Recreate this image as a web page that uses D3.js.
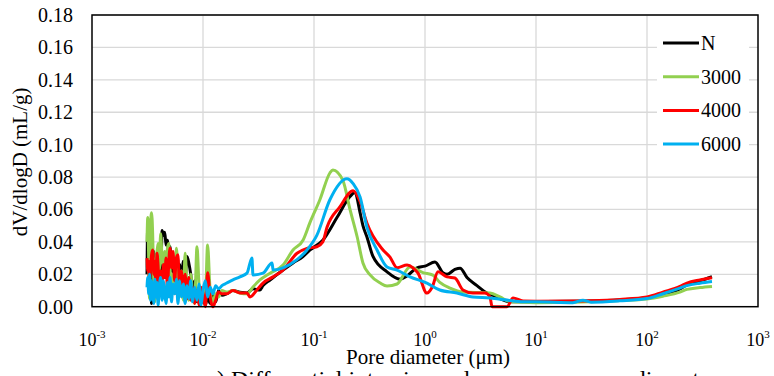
<!DOCTYPE html>
<html>
<head>
<meta charset="utf-8">
<script src="https://cdn.jsdelivr.net/npm/d3@7"></script>
<style>
  body { margin: 0; background: #fff; }
  svg text { font-family: "Liberation Serif", "Times New Roman", "DejaVu Serif", serif; fill: #000; }
</style>
</head>
<body>
<script>
// pore diameter (um), dV/dlogD (mL/g)
var seriesNames = ["N", "3000", "4000", "6000"];
var seriesColors = ["#000000", "#92D050", "#FF0000", "#00B0F0"];

var nData = [
  [0.00313, 0.020], [0.00318, 0.052], [0.00324, 0.040], [0.0033, 0.010],
  [0.00337, 0.028], [0.00344, 0.002], [0.00352, 0.030], [0.0036, 0.034],
  [0.00368, 0.006], [0.00376, 0.032], [0.00385, 0.026], [0.00394, 0.004],
  [0.00404, 0.030], [0.00415, 0.012], [0.00428, 0.047], [0.0044, 0.044],
  [0.00452, 0.046], [0.00465, 0.038], [0.00478, 0.041], [0.00492, 0.030],
  [0.00505, 0.037], [0.0052, 0.022], [0.00537, 0.030], [0.00555, 0.008],
  [0.00575, 0.027], [0.00595, 0.010], [0.00615, 0.026], [0.0064, 0.014],
  [0.00665, 0.028], [0.0069, 0.018], [0.00718, 0.031], [0.00745, 0.027],
  [0.00775, 0.020], [0.00805, 0.010], [0.0084, 0.016], [0.00883, 0.003],
  [0.0092, 0.008], [0.0096, 0.002], [0.01, 0.006], [0.0105, 0.001],
  [0.011, 0.006], [0.0116, 0.002], [0.0123, 0.008], [0.013, 0.003],
  [0.0138, 0.010], [0.0148, 0.007], [0.0164, 0.008], [0.0186, 0.010],
  [0.0215, 0.009], [0.0249, 0.0085], [0.0282, 0.011], [0.0326, 0.0103],
  [0.0347, 0.013], [0.0402, 0.0165], [0.0526, 0.0226], [0.0647, 0.027],
  [0.0796, 0.031], [0.0921, 0.035], [0.12, 0.041], [0.161, 0.055],
  [0.211, 0.068], [0.234, 0.0705], [0.26, 0.058], [0.276, 0.050],
  [0.30, 0.043], [0.34, 0.031], [0.455, 0.0215], [0.596, 0.017],
  [0.689, 0.019], [0.847, 0.024], [1.0, 0.025], [1.23, 0.0276],
  [1.45, 0.021], [1.58, 0.020], [1.86, 0.023], [2.07, 0.0238],
  [2.39, 0.018], [2.94, 0.013], [3.62, 0.0084], [4.10, 0.007],
  [4.74, 0.005], [5.83, 0.003], [7.64, 0.003], [10, 0.0032],
  [21.5, 0.0033], [31.3, 0.0035], [57, 0.0042], [100, 0.0055],
  [139, 0.0072], [198, 0.011], [229, 0.0135], [300, 0.016], [385, 0.0185]
];

var g3000Data = [
  [0.00313, 0.040], [0.00318, 0.055], [0.00324, 0.030], [0.0033, 0.005],
  [0.00337, 0.050], [0.00344, 0.058], [0.00352, 0.045], [0.0036, 0.015],
  [0.00368, 0.003], [0.00376, 0.025], [0.00385, 0.034], [0.00394, 0.039],
  [0.00404, 0.022], [0.00415, 0.045], [0.00428, 0.030], [0.0044, 0.024],
  [0.00452, 0.034], [0.00465, 0.018], [0.00478, 0.036], [0.00492, 0.039],
  [0.00505, 0.024], [0.0052, 0.008], [0.00537, 0.020], [0.00555, 0.012],
  [0.00575, 0.036], [0.00595, 0.022], [0.00615, 0.006], [0.0064, 0.022],
  [0.00665, 0.004], [0.0069, 0.033], [0.00718, 0.012], [0.00745, 0.004],
  [0.00775, 0.020], [0.00805, 0.008], [0.0084, 0.002], [0.00883, 0.037],
  [0.0092, 0.014], [0.0096, 0.003], [0.01, 0.012], [0.0105, 0.006],
  [0.011, 0.038], [0.0116, 0.010], [0.0123, 0.003], [0.013, 0.008],
  [0.0138, 0.006], [0.0148, 0.010], [0.0164, 0.009], [0.0186, 0.010],
  [0.0215, 0.0085], [0.0249, 0.008], [0.0282, 0.0122], [0.0326, 0.0165],
  [0.0402, 0.0207], [0.0526, 0.0257], [0.0647, 0.035], [0.0796, 0.041],
  [0.0921, 0.052], [0.113, 0.066], [0.139, 0.0825], [0.148, 0.0844],
  [0.182, 0.078], [0.211, 0.060], [0.245, 0.043], [0.276, 0.027],
  [0.32, 0.0196], [0.395, 0.0146], [0.455, 0.0128], [0.56, 0.014],
  [0.733, 0.0245], [0.959, 0.021], [1.18, 0.0195], [1.36, 0.015],
  [1.68, 0.0115], [2.2, 0.009], [3.85, 0.0085], [4.74, 0.006],
  [5.83, 0.003], [10, 0.0025], [21.5, 0.0027], [31.3, 0.003],
  [57, 0.0038], [100, 0.0048], [139, 0.0065], [198, 0.009],
  [229, 0.0107], [300, 0.0118], [385, 0.0125]
];

var r4000Data = [
  [0.00313, 0.030], [0.00318, 0.022], [0.00324, 0.028], [0.0033, 0.016],
  [0.00337, 0.024], [0.00344, 0.032], [0.00352, 0.035], [0.0036, 0.020],
  [0.00368, 0.028], [0.00376, 0.014], [0.00385, 0.033], [0.00394, 0.025],
  [0.00404, 0.010], [0.00415, 0.022], [0.00428, 0.012], [0.0044, 0.026],
  [0.00452, 0.018], [0.00465, 0.030], [0.00478, 0.010], [0.00492, 0.028],
  [0.00505, 0.036], [0.0052, 0.024], [0.00537, 0.034], [0.00555, 0.016],
  [0.00575, 0.030], [0.00595, 0.032], [0.00615, 0.010], [0.0064, 0.022],
  [0.00665, 0.012], [0.0069, 0.020], [0.00718, 0.005], [0.00745, 0.018],
  [0.00775, 0.004], [0.00805, 0.012], [0.0084, 0.002], [0.00883, 0.010],
  [0.0092, 0.001], [0.0096, 0.012], [0.01, 0.008], [0.0105, 0.0],
  [0.011, 0.021], [0.0116, 0.006], [0.0123, 0.0], [0.013, 0.004],
  [0.0138, 0.009], [0.0148, 0.008], [0.0164, 0.008], [0.0186, 0.010],
  [0.0215, 0.0084], [0.0249, 0.0084], [0.0265, 0.006], [0.0306, 0.0103],
  [0.0347, 0.0146], [0.0428, 0.0184], [0.0526, 0.0226], [0.0703, 0.033],
  [0.0865, 0.036], [0.106, 0.037], [0.12, 0.040], [0.131, 0.049],
  [0.171, 0.0616], [0.225, 0.0716], [0.26, 0.065], [0.30, 0.0515],
  [0.419, 0.035], [0.484, 0.0306], [0.56, 0.024], [0.689, 0.0257],
  [0.78, 0.024], [0.865, 0.0207], [1.04, 0.0084], [1.16, 0.012],
  [1.31, 0.0215], [1.58, 0.0184], [1.86, 0.0177], [2.2, 0.0103],
  [2.7, 0.0084], [3.47, 0.0084], [3.85, 0.006], [4.02, 0.0],
  [5.48, 0.0], [6.21, 0.0054], [7.64, 0.0035], [10, 0.0034],
  [21.5, 0.0035], [31.3, 0.0037], [57, 0.0045], [100, 0.006],
  [139, 0.009], [198, 0.0125], [229, 0.0146], [300, 0.0165], [385, 0.0178]
];

var b6000Data = [
  [0.00313, 0.012], [0.00318, 0.018], [0.00324, 0.008], [0.0033, 0.020],
  [0.00337, 0.004], [0.00344, 0.016], [0.00352, 0.010], [0.0036, 0.002],
  [0.00368, 0.017], [0.00376, 0.006], [0.00385, 0.015], [0.00394, 0.001],
  [0.00404, 0.012], [0.00415, 0.018], [0.00428, 0.004], [0.0044, 0.016],
  [0.00452, 0.008], [0.00465, 0.002], [0.00478, 0.015], [0.00492, 0.006],
  [0.00505, 0.018], [0.0052, 0.003], [0.00537, 0.014], [0.00555, 0.008],
  [0.00575, 0.017], [0.00595, 0.002], [0.00615, 0.016], [0.0064, 0.006],
  [0.00665, 0.014], [0.0069, 0.002], [0.00718, 0.013], [0.00745, 0.005],
  [0.00775, 0.016], [0.00805, 0.003], [0.0084, 0.012], [0.00883, 0.004],
  [0.0092, 0.014], [0.0096, 0.001], [0.01, 0.010], [0.0105, 0.016],
  [0.011, 0.006], [0.0116, 0.012], [0.0123, 0.008], [0.013, 0.013],
  [0.0138, 0.011], [0.0148, 0.013], [0.0164, 0.0146], [0.0186, 0.0165],
  [0.0215, 0.0184], [0.0249, 0.0207], [0.0276, 0.030], [0.0282, 0.0196],
  [0.0347, 0.0207], [0.0419, 0.027], [0.0428, 0.0226], [0.0526, 0.024],
  [0.0703, 0.029], [0.0865, 0.035], [0.106, 0.044], [0.139, 0.066],
  [0.198, 0.079], [0.225, 0.076], [0.26, 0.0677], [0.30, 0.049],
  [0.37, 0.035], [0.455, 0.0245], [0.56, 0.0226], [0.733, 0.0184],
  [1.04, 0.0146], [1.36, 0.0103], [1.94, 0.0084], [2.7, 0.006],
  [3.85, 0.0054], [5.48, 0.0041], [7.64, 0.003], [10, 0.003],
  [21.5, 0.0025], [26.5, 0.004], [31.3, 0.0028], [57, 0.0036],
  [100, 0.005], [139, 0.008], [198, 0.0115], [229, 0.013],
  [300, 0.0145], [385, 0.0155]
];

var allSeries = [nData, g3000Data, r4000Data, b6000Data];
var xTickExps = [-3, -2, -1, 0, 1, 2, 3];
var yTicks = [0, 0.02, 0.04, 0.06, 0.08, 0.10, 0.12, 0.14, 0.16, 0.18];

var W = 774, H = 376;
// plot box edges (window.top is reserved, so no bare "top")
var pLeft = 92, pRight = 758, pTop = 15, pBottom = 306.7;
var serif = "'Liberation Serif', 'Times New Roman', 'DejaVu Serif', serif";

var svg = d3.select("body").append("svg")
    .attr("width", W)
    .attr("height", H)
    .attr("font-family", serif);

var x = d3.scaleLog().domain([1e-3, 1e3]).range([pLeft, pRight]);
var y = d3.scaleLinear().domain([0, 0.18]).range([pBottom, pTop]);

// gridlines
svg.append("g").selectAll("line")
    .data(yTicks.slice(1))
    .enter().append("line")
    .attr("x1", pLeft).attr("x2", pRight)
    .attr("y1", function(d){ return y(d); })
    .attr("y2", function(d){ return y(d); })
    .style("stroke", "#d9d9d9")
    .style("stroke-width", "1.3px");

svg.append("g").selectAll("line")
    .data(xTickExps.slice(1, -1))
    .enter().append("line")
    .attr("x1", function(d){ return x(Math.pow(10, d)); })
    .attr("x2", function(d){ return x(Math.pow(10, d)); })
    .attr("y1", pTop).attr("y2", pBottom)
    .style("stroke", "#d9d9d9")
    .style("stroke-width", "1.3px");

// y tick labels
var yAxis = d3.axisLeft(y).tickValues(yTicks)
    .tickFormat(d3.format(".2f")).tickSize(0).tickPadding(19);
var gy = svg.append("g")
    .attr("transform", "translate(" + pLeft + ",0)")
    .call(yAxis)
    .attr("font-family", serif);
gy.select(".domain").remove();
gy.selectAll("text")
    .style("font-size", "20px")
    .style("font-family", serif);

// x tick labels with superscripts
var xl = svg.append("g").selectAll("text")
    .data(xTickExps)
    .enter().append("text")
    .attr("x", function(d){ return x(Math.pow(10, d)); })
    .attr("y", 346)
    .attr("text-anchor", "middle")
    .style("font-size", "18px")
    .style("font-family", serif);
xl.append("tspan").text("10");
xl.append("tspan")
    .attr("dy", -8)
    .style("font-size", "11px")
    .text(function(d){ return d; });

// series lines
var line = d3.line()
    .x(function(d){ return x(d[0]); })
    .y(function(d){ return y(d[1]); })
    .curve(d3.curveMonotoneX);

allSeries.forEach(function(s, i){
    svg.append("path")
        .datum(s)
        .attr("d", line)
        .style("fill", "none")
        .style("stroke", seriesColors[i])
        .style("stroke-width", "3px")
        .style("stroke-linejoin", "round");
});

// plot frame
svg.append("rect")
    .attr("x", pLeft).attr("y", pTop)
    .attr("width", pRight - pLeft).attr("height", pBottom - pTop)
    .style("fill", "none")
    .style("stroke", "#000")
    .style("stroke-width", "1.5px");

// legend
var lg = svg.append("g");
lg.append("rect")
    .attr("x", 657).attr("y", 26)
    .attr("width", 92).attr("height", 134)
    .style("fill", "#fff");
seriesNames.forEach(function(name, i){
    var ly = 43 + i * 33.7;
    lg.append("line")
        .attr("x1", 663).attr("x2", 699)
        .attr("y1", ly).attr("y2", ly)
        .style("stroke", seriesColors[i])
        .style("stroke-width", "3px");
    lg.append("text")
        .attr("x", 701).attr("y", ly + 7)
        .style("font-size", "20px")
        .style("font-family", serif)
        .text(name);
});

// axis titles
svg.append("text")
    .attr("x", (pLeft + pRight) / 2 + 3)
    .attr("y", 364)
    .attr("text-anchor", "middle")
    .style("font-size", "21px")
    .style("font-family", serif)
    .text("Pore diameter (\u03bcm)");

svg.append("text")
    .attr("transform", "translate(27," + ((pTop + pBottom) / 2 + 1) + ") rotate(-90)")
    .attr("text-anchor", "middle")
    .style("font-size", "21px")
    .style("font-family", serif)
    .text("dV/dlogD (mL/g)");

// caption, cut off by the bottom edge
svg.append("text")
    .attr("x", 462)
    .attr("y", 387)
    .attr("text-anchor", "middle")
    .style("font-size", "24px")
    .style("font-family", serif)
    .text("a) Differential intrusion volume versus pore diameter");
</script>
</body>
</html>
